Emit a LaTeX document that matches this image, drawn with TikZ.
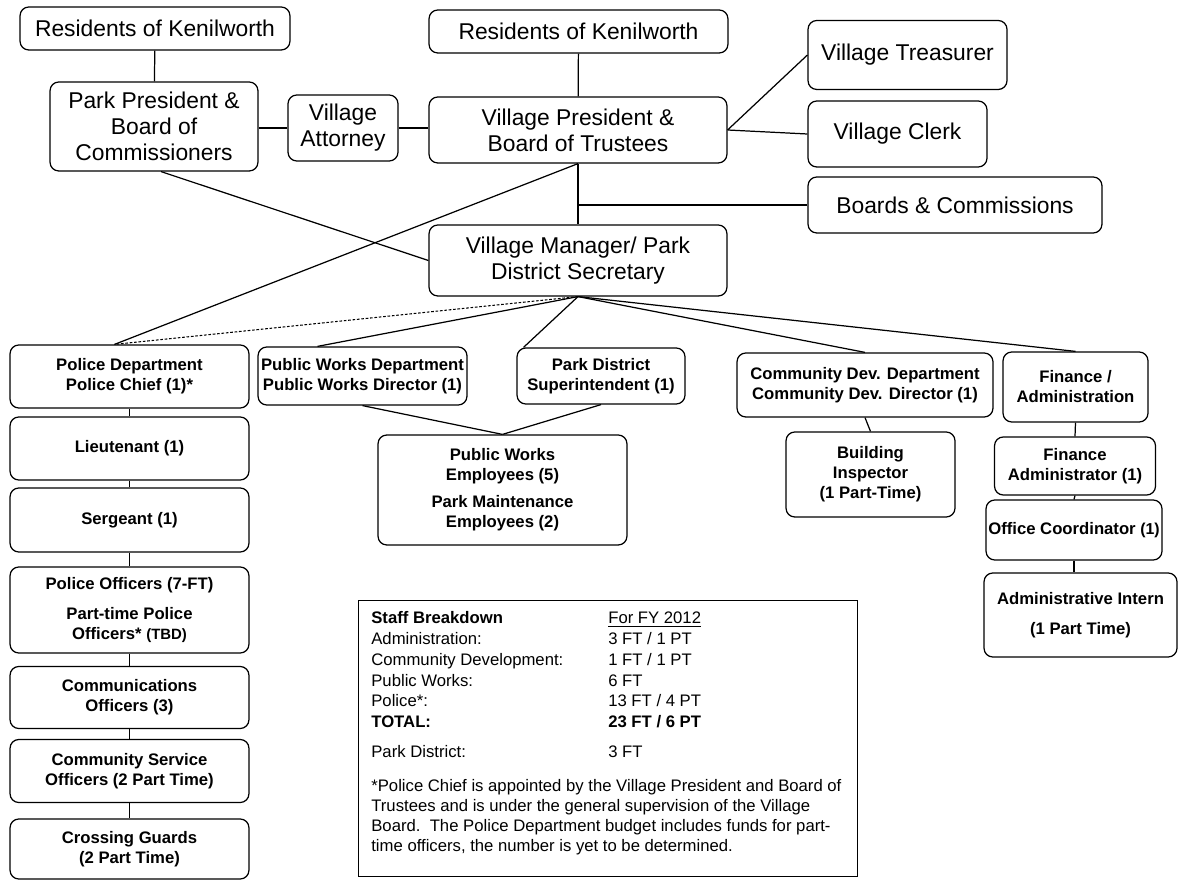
\documentclass[tikz,border=0pt]{standalone}
\usepackage{fontspec}
\setmainfont{Liberation Sans}
\usetikzlibrary{positioning}

\begin{document}
\begin{tikzpicture}[x=0.02cm, y=-0.02cm,
    topbox/.style={draw, rounded corners=5pt, line width=0.7pt, align=center, inner sep=1pt,
        font=\fontsize{13}{14.8}\selectfont},
    deptbox/.style={draw, rounded corners=5pt, line width=0.7pt, align=center, inner sep=1pt,
        font=\bfseries\fontsize{9.5}{11.4}\selectfont},
    link/.style={line width=0.7pt},
    dotlink/.style={line width=0.6pt, dash pattern=on 1.5pt off 1pt}]

    \useasboundingbox (0,0) rectangle (1180,881);

    % Governing boards
    \node[topbox, minimum width=5.4cm, minimum height=0.86cm] (resleft) at (155,28.5) {Residents of Kenilworth};
    \node[topbox, minimum width=4.16cm, minimum height=1.78cm] (parkboard) at (154,126.5) {Park President \&\\ Board of\\ Commissioners};
    \node[topbox, minimum width=2.2cm, minimum height=1.32cm] (attorney) at (343,128) {Village\\ Attorney};
    \node[topbox, minimum width=5.98cm, minimum height=0.86cm] (resmid) at (578.5,31.5) {Residents of Kenilworth};
    \node[topbox, minimum width=5.96cm, minimum height=1.32cm] (villboard) at (578,130) {Village President \&\\ Board of Trustees};
    \node[topbox, minimum width=3.98cm, minimum height=1.38cm] (treasurer) at (907.5,55) {Village Treasurer};
    \node[topbox, minimum width=3.58cm, minimum height=1.32cm] (clerk) at (897.5,134) {Village Clerk};
    \node[topbox, minimum width=5.88cm, minimum height=1.12cm] (boards) at (955,205) {Boards \& Commissions};
    \node[topbox, minimum width=5.96cm, minimum height=1.42cm] (manager) at (578,260.5) {Village Manager/ Park\\ District Secretary};

    % Police column
    \node[deptbox, minimum width=4.78cm, minimum height=1.26cm] (police) at (129.5,376.5) {Police Department\\ Police Chief (1)*};
    \node[deptbox, minimum width=4.78cm, minimum height=1.26cm] (lieutenant) at (129.5,448.5) {Lieutenant (1)};
    \node[deptbox, minimum width=4.78cm, minimum height=1.28cm] (sergeant) at (129.5,520) {Sergeant (1)};
    \node[deptbox, minimum width=4.78cm, minimum height=1.72cm] (officers) at (129.5,610) {Police Officers (7-FT)\\[6pt] Part-time Police\\ Officers* {\fontsize{8.5}{10}\selectfont(TBD)}};
    \node[deptbox, minimum width=4.78cm, minimum height=1.24cm] (comms) at (129.5,697.5) {Communications\\ Officers (3)};
    \node[deptbox, minimum width=4.78cm, minimum height=1.26cm] (cso) at (129.5,771) {Community Service\\ Officers (2 Part Time)};
    \node[deptbox, minimum width=4.78cm, minimum height=1.2cm] (guards) at (129.5,849) {Crossing Guards\\ (2 Part Time)};

    % Other departments
    \node[deptbox, minimum width=4.18cm, minimum height=1.16cm] (pworks) at (362.5,376) {Public Works Department\\ Public Works Director (1)};
    \node[deptbox, minimum width=3.36cm, minimum height=1.12cm] (parksup) at (601,376) {Park District\\ Superintendent (1)};
    \node[deptbox, minimum width=4.98cm, minimum height=2.2cm] (pwstaff) at (502.5,490) {Public Works\\ Employees (5)\\[4pt] Park Maintenance\\ Employees (2)};
    \node[deptbox, minimum width=5.12cm, minimum height=1.28cm] (commdev) at (865,385) {Community Dev. Department\\ Community Dev. Director (1)};
    \node[deptbox, minimum width=3.38cm, minimum height=1.7cm] (inspector) at (870.5,474.5) {Building\\ Inspector\\ (1 Part-Time)};
    \node[deptbox, minimum width=2.9cm, minimum height=1.4cm] (finance) at (1075.5,387) {Finance /\\ Administration};
    \node[deptbox, minimum width=3.22cm, minimum height=1.16cm] (finadmin) at (1075,466) {Finance\\ Administrator (1)};
    \node[deptbox, minimum width=3.52cm, minimum height=1.2cm] (officecoord) at (1074,530) {Office Coordinator {\fontsize{9}{11}\selectfont(1)}};
    \node[deptbox, minimum width=3.86cm, minimum height=1.68cm] (intern) at (1080.5,615) {Administrative Intern\\[6pt] (1 Part Time)};

    % Staff breakdown
    \node[draw, line width=0.8pt, inner sep=0pt, anchor=north west, minimum width=9.98cm, minimum height=5.52cm] (staffbox) at (358,600) {};
    \node[anchor=north west, inner sep=0pt, font=\fontsize{9.5}{11.8}\selectfont] (stafftable) at (371,609) {%
        \begin{tabular}{@{}p{4.74cm}@{}l@{}}
            \textbf{Staff Breakdown} & \underline{For FY 2012}\\
            Administration: & 3 FT / 1 PT\\
            Community Development: & 1 FT / 1 PT\\
            Public Works: & 6 FT\\
            Police*: & 13 FT / 4 PT\\
            \textbf{TOTAL:} & \textbf{23 FT / 6 PT}\\[5pt]
            Park District: & 3 FT
        \end{tabular}};
    \node[anchor=north west, inner sep=0pt, align=left, font=\fontsize{9.5}{11.4}\selectfont] (staffnote) at (371,779) {*Police Chief is appointed by the Village President and Board of\\ Trustees and is under the general supervision of the Village\\ Board.\ \ The Police Department budget includes funds for part-\\ time officers, the number is yet to be determined.};

    % Connectors
    \draw[link] (resleft) -- (parkboard);
    \draw[link] (parkboard.east |- attorney.west) -- (attorney.west);
    \draw[link] (attorney.east) -- (attorney.east -| villboard.west);
    \draw[link] (resmid) -- (villboard);
    \draw[link] (villboard.east) -- (treasurer.west);
    \draw[link] (villboard.east) -- (clerk.west);
    \draw[link] (villboard) -- (manager);
    \draw[link] (villboard.south |- boards.west) -- (boards.west);
    \draw[link] ([xshift=0.14cm]parkboard.south) -- (manager.west);
    \draw[link] (villboard.south) -- ([xshift=-0.3cm]police.north);
    \draw[dotlink] (manager.south) -- ([xshift=-0.3cm]police.north);
    \draw[link] (manager.south) -- ([xshift=-0.9cm]pworks.north);
    \draw[link] (manager.south) -- ([xshift=-1.55cm]parksup.north);
    \draw[link] (manager.south) -- (commdev.north);
    \draw[link] (manager.south) -- (finance.north);
    \draw[link] (pworks.south) -- (pwstaff.north);
    \draw[link] (parksup.south) -- (pwstaff.north);
    \draw[link] (commdev.south) -- (inspector.north);
    \foreach \a/\b in {police/lieutenant, lieutenant/sergeant, sergeant/officers, officers/comms, comms/cso, cso/guards}
        \draw[link] (\a) -- (\b);
    \foreach \a/\b in {finance/finadmin, finadmin/officecoord}
        \draw[link] (\a.south) -- (\b.north);
    \draw[link] (officecoord.south) -- (officecoord.south |- intern.north);
\end{tikzpicture}
\end{document}
